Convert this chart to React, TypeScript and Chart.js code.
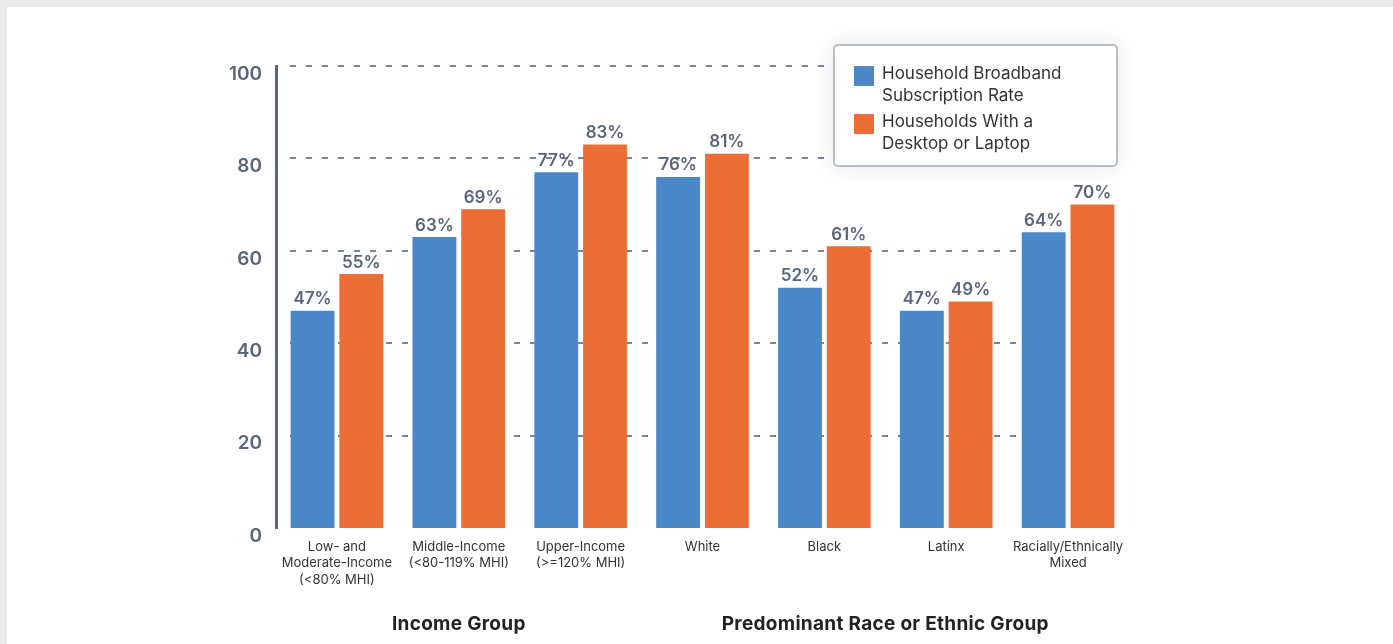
import React, { useEffect, useRef } from "react";
import { Chart, registerables } from "chart.js";

Chart.register(...registerables);

const categories: (string | string[])[] = [
  ["Low- and", "Moderate-Income", "(<80% MHI)"],
  ["Middle-Income", "(<80-119% MHI)"],
  ["Upper-Income", "(>=120% MHI)"],
  "White",
  "Black",
  "Latinx",
  ["Racially/Ethnically", "Mixed"],
];
const broadband = [47, 63, 77, 76, 52, 47, 64];
const computer = [55, 69, 83, 81, 61, 49, 70];
const seriesLabels = [
  ["Household Broadband", "Subscription Rate"],
  ["Households With a", "Desktop or Laptop"],
];
const groupTitles = [
  { text: "Income Group", from: 0, to: 2 },
  { text: "Predominant Race or Ethnic Group", from: 3, to: 6 },
];
const yTicks = [0, 20, 40, 60, 80, 100];

const BLUE = "#4a88c8";
const ORANGE = "#ec6d36";
const AXIS = "#59657a";
const FONT = "Inter, 'Open Sans', sans-serif";

export default function App() {
  const ref = useRef<HTMLCanvasElement>(null);

  useEffect(() => {
    document.body.style.margin = "0";
    document.body.style.background = "#e9eaec";
    const gridPlugin = {
      id: "dashGrid",
      beforeDatasetsDraw(chart: any) {
        const { ctx, chartArea, scales } = chart;
        const meta = chart.getDatasetMeta(chart.data.datasets.length - 1);
        const last = meta.data[meta.data.length - 1] as any;
        const right = last.x + last.width / 2 + 3;
        ctx.save();
        ctx.strokeStyle = "#7b859a";
        ctx.lineWidth = 2;
        ctx.setLineDash([6, 10]);
        yTicks.forEach((t) => {
          if (t === 0) return;
          const y = Math.round(scales.y.getPixelForValue(t));
          ctx.beginPath();
          ctx.moveTo(chartArea.left + 14, y);
          ctx.lineTo(right, y);
          ctx.stroke();
        });
        ctx.restore();
      },
      afterDatasetsDraw(chart: any) {
        const { ctx, scales } = chart;
        ctx.save();
        ctx.fillStyle = AXIS;
        ctx.font = `600 17px ${FONT}`;
        ctx.textAlign = "center";
        ctx.textBaseline = "bottom";
        chart.data.datasets.forEach((ds: any, i: number) => {
          const meta = chart.getDatasetMeta(i);
          meta.data.forEach((bar: any, j: number) => {
            ctx.fillText(ds.data[j] + "%", bar.x, bar.y - 3);
          });
        });
        ctx.fillStyle = "#222";
        ctx.font = `700 19px ${FONT}`;
        (ctx as any).letterSpacing = "0.3px";
        ctx.textBaseline = "middle";
        groupTitles.forEach((g) => {
          const x = (scales.x.getPixelForValue(g.from) + scales.x.getPixelForValue(g.to)) / 2;
          ctx.fillText(g.text, x, 617);
        });
        ctx.restore();
      },
    };

    const chart = new Chart(ref.current!, {
      type: "bar",
      data: {
        labels: categories,
        datasets: [
          { label: seriesLabels[0].join(" "), data: broadband, backgroundColor: BLUE },
          { label: seriesLabels[1].join(" "), data: computer, backgroundColor: ORANGE },
        ],
      },
      options: {
        animation: false,
        responsive: false,
        maintainAspectRatio: false,
        layout: { padding: { left: 0, top: 59, right: 264, bottom: 0 } },
        datasets: { bar: { categoryPercentage: 0.8, barPercentage: 0.9 } },
        plugins: { legend: { display: false }, tooltip: { enabled: false } },
        scales: {
          x: {
            grid: { display: false, drawTicks: false },
            border: { display: false },
            ticks: {
              color: "#333",
              font: { family: FONT, size: 13, lineHeight: 1.25 },
              padding: 11,
              maxRotation: 0,
              autoSkip: false,
            },
            afterFit(scale: any) {
              scale.height = 116;
            },
          },
          y: {
            min: 0,
            max: 100,
            afterBuildTicks(scale: any) {
              scale.ticks = yTicks.map((v) => ({ value: v }));
            },
            grid: { display: false, drawTicks: false },
            border: { display: true, color: AXIS, width: 3 },
            ticks: {
              color: AXIS,
              font: { family: FONT, size: 19, weight: "600" },
              padding: 14,
              labelOffset: 8,
            },
            afterFit(scale: any) {
              scale.width = 269;
            },
          },
        },
      },
      plugins: [gridPlugin],
    });
    return () => chart.destroy();
  }, []);

  return (
    <div
      style={{
        position: "absolute",
        left: 7,
        top: 7,
        width: 1386,
        height: 637,
        background: "#fff",
      }}
    >
      <canvas ref={ref} width={1386} height={637} style={{ display: "block" }} />
      <div
        style={{
          position: "absolute",
          left: 826,
          top: 37,
          width: 281,
          height: 119,
          border: "2px solid #b7bdc8",
          borderRadius: 5,
          background: "#fff",
          boxShadow: "0 0 22px rgba(0,0,0,0.10)",
          fontFamily: FONT,
          fontSize: 17,
          color: "#333",
        }}
      >
        {seriesLabels.map((lines, i) => (
          <div
            key={i}
            style={{
              position: "absolute",
              left: 19,
              top: 16 + i * 48,
              display: "flex",
              alignItems: "flex-start",
            }}
          >
            <div
              style={{
                width: 20,
                height: 20,
                marginTop: 4,
                background: i === 0 ? BLUE : ORANGE,
                flex: "none",
              }}
            />
            <div style={{ marginLeft: 8, lineHeight: "22px" }}>
              {lines.map((l, k) => (
                <div key={k}>{l}</div>
              ))}
            </div>
          </div>
        ))}
      </div>
    </div>
  );
}
